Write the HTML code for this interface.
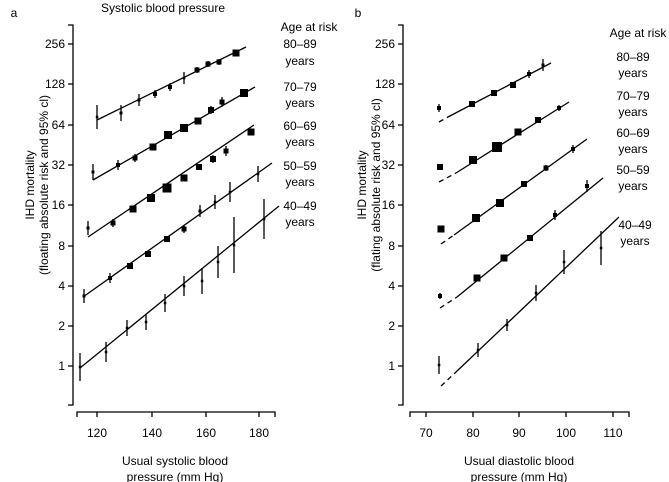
<!DOCTYPE html>
<html><head><meta charset="utf-8"><style>
html,body{margin:0;padding:0;background:#fff;}
svg{display:block;font-family:"Liberation Sans",Arial,sans-serif;}
</style></head><body>
<svg width="669" height="482" viewBox="0 0 669 482" xmlns="http://www.w3.org/2000/svg">
<g fill="#000" font-size="12">
<text x="14" y="17" text-anchor="middle">a</text>
<text x="358" y="17" text-anchor="middle">b</text>
<text x="163" y="12" text-anchor="middle">Systolic blood pressure</text>
<g text-anchor="end">
<text x="65" y="48">256</text><text x="65" y="88">128</text><text x="65" y="129">64</text><text x="65" y="169">32</text><text x="65" y="209">16</text><text x="65" y="250">8</text><text x="65" y="290">4</text><text x="65" y="330">2</text><text x="65" y="370">1</text>
<text x="395" y="48">256</text><text x="395" y="88">128</text><text x="395" y="129">64</text><text x="395" y="169">32</text><text x="395" y="209">16</text><text x="395" y="250">8</text><text x="395" y="290">4</text><text x="395" y="330">2</text><text x="395" y="370">1</text>
</g>
<g text-anchor="middle">
<text x="97" y="437">120</text><text x="152" y="437">140</text><text x="206" y="437">160</text><text x="259" y="437">180</text>
<text x="426" y="437">70</text><text x="473" y="437">80</text><text x="519" y="437">90</text><text x="566" y="437">100</text><text x="613" y="437">110</text>
<text x="175" y="465">Usual systolic blood</text><text x="175" y="481">pressure (mm Hg)</text>
<text x="519" y="465">Usual diastolic blood</text><text x="519" y="481">pressure (mm Hg)</text>
<text transform="translate(34,185) rotate(-90)">IHD mortality</text>
<text transform="translate(48,185) rotate(-90)">(floating absolute risk and 95% cl)</text>
<text transform="translate(366,185) rotate(-90)">IHD mortality</text>
<text transform="translate(380,185) rotate(-90)">(flating absolute risk and 95% cl)</text>
<text x="309" y="31">Age at risk</text>
<text x="300" y="48">80–89</text><text x="300" y="65">years</text>
<text x="300" y="91">70–79</text><text x="300" y="107">years</text>
<text x="300" y="130">60–69</text><text x="300" y="146">years</text>
<text x="300" y="170">50–59</text><text x="300" y="186">years</text>
<text x="300" y="210">40–49</text><text x="300" y="226">years</text>
<text x="638" y="37">Age at risk</text>
<text x="633" y="61">80–89</text><text x="633" y="77">years</text>
<text x="633" y="100">70–79</text><text x="633" y="116">years</text>
<text x="633" y="137">60–69</text><text x="633" y="153">years</text>
<text x="633" y="174">50–59</text><text x="633" y="190">years</text>
<text x="635" y="229">40–49</text><text x="635" y="245">years</text>
</g>
</g>
<g stroke="#000" stroke-width="1.3" fill="none">
<path d="M68,25H73V405H68"/>
<path d="M68,44H73M68,84H73M68,125H73M68,165H73M68,205H73M68,246H73M68,286H73M68,326H73M68,366H73"/>
<path d="M77,417V412H275V417M97,412V417M152,412V417M206,412V417M259,412V417"/>
<path d="M398,25H403V405H398"/>
<path d="M398,44H403M398,84H403M398,125H403M398,165H403M398,205H403M398,246H403M398,286H403M398,326H403M398,366H403"/>
<path d="M410,417V412H629V417M426,412V417M473,412V417M519,412V417M566,412V417M613,412V417"/>
<path d="M97,120L246,47M93,180L255,87M88,237L254,125M83,297L272,163M80,368L279,206"/>
<path d="M448,117L551,63M456,173L569,102M454,235L587,139M457,297L603,178M456,372L619,217"/>
<path stroke-dasharray="5,4" d="M439,122L448,117M439,182L456,173M441,244L454,235M440,308L457,297M441,386L456,372"/>
<!-- error bars -->
<path d="M97,105V129M121,105V121M139,94V106M155,90V98M170,83V91M184,72V84M197,67V73M208,61V67M219,59V65M236,51V55
M93,164V180M118,160V170M135,154V162M211,106V114M222,97V107
M88,221V235M113,219V227M213,155V163M226,146V156
M84,289V303M110,273V283M184,225V233M200,205V217M215,195V209M230,182V202M258,166V182
M80,353V381M106,342V362M127,320V336M146,314V330M165,294V312M184,276V296M202,268V294M218,246V278M234,217V273M264,199V239
M439,104V112M529,70V78M543,59V71M440,164V170M559,105V111M441,226V232M546,165V171M573,145V153
M440,293V299M530,235V241M555,210V220M587,180V192
M439,356V374M478,343V357M507,319V331M536,285V301M564,250V274M601,231V265"/>
<!-- squares -->
<path stroke-width="2.5" d="M95.8,117h2.5M182.8,78h2.5M213.8,202h2.5M228.8,192h2.5M256.8,174h2.5M78.8,367h2.5M104.8,352h2.5M125.8,328h2.5M144.8,322h2.5M163.8,303h2.5M182.8,286h2.5M200.8,281h2.5M216.8,262h2.5M232.8,245h2.5M262.8,219h2.5M437.8,365h2.5M476.8,350h2.5M505.8,325h2.5M534.8,293h2.5M562.8,262h2.5M599.8,248h2.5"/>
<path stroke-width="3" d="M119.5,113h3M137.5,100h3M91.5,172h3M86.5,228h3M82.5,296h3M198.5,211h3M541.5,65h3"/>
<path stroke-width="4" d="M153,94h4M168,87h4M116,165h4M108,278h4M437,108h4M527,74h4M557,108h4M571,149h4M438,296h4M553,215h4M585,186h4"/>
<path stroke-width="5" d="M194.5,70h5M205.5,64h5M216.5,62h5M132.5,158h5M219.5,102h5M110.5,223h5M223.5,151h5M181.5,229h5M543.5,168h5"/>
<path stroke-width="6" d="M208,110h6M196,167h6M210,159h6M127,266h6M145,254h6M164,239h6M469,104h6M491,93h6M510,85h6M437,167h6M535,120h6M521,184h6M527,238h6"/>
<path stroke-width="7" d="M232.5,53h7M149.5,147h7M194.5,121h7M129.5,209h7M180.5,178h7M247.5,132h7M514.5,132h7M437.5,229h7M473.5,278h7M500.5,258h7"/>
<path stroke-width="8" d="M164,135h8M180,128h8M240,93h8M147,198h8M469,160h8M472,218h8M496,203h8"/>
<path stroke-width="9" d="M162.5,188h9"/>
<path stroke-width="10" d="M492,147h10"/>
</g>
</svg>
</body></html>
